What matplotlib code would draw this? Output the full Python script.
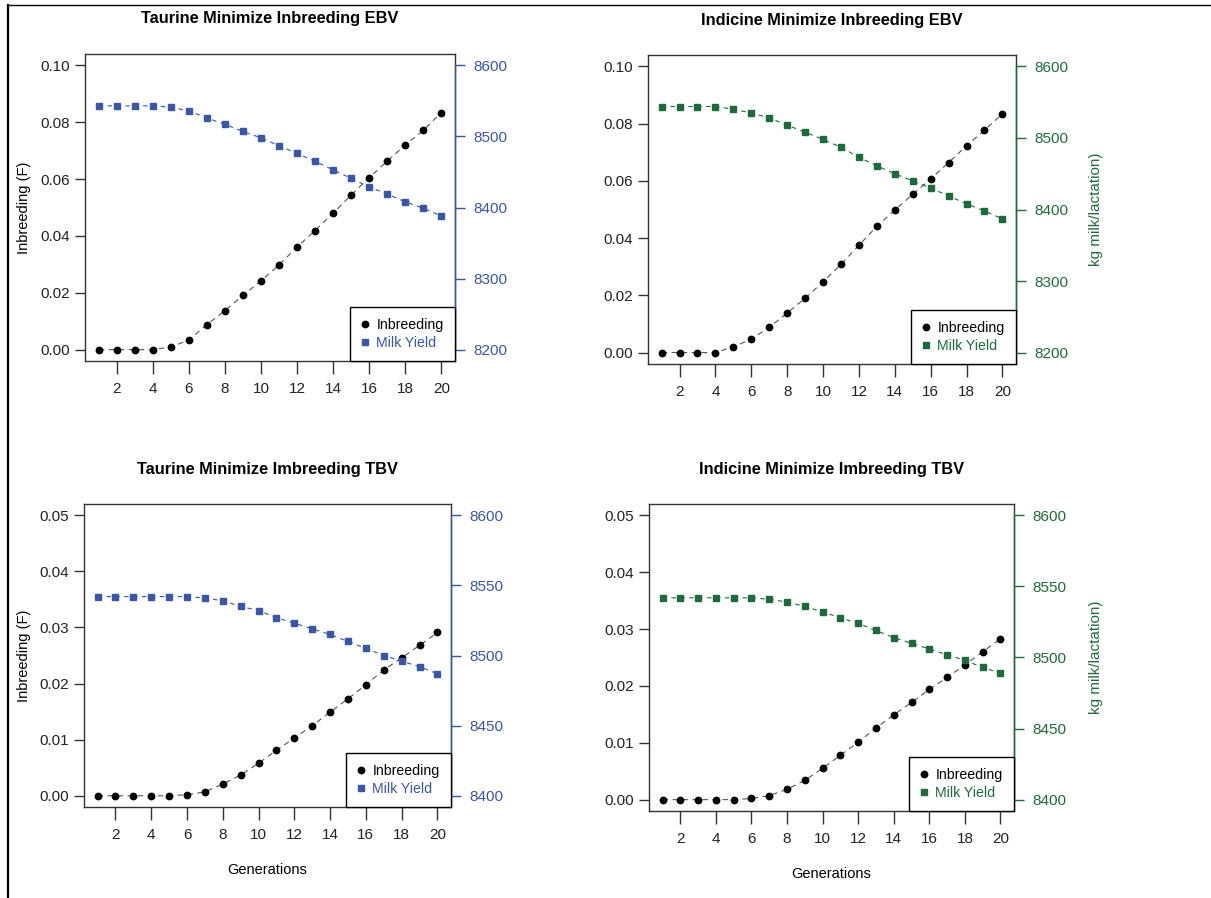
import numpy as np
import matplotlib
matplotlib.use("Agg")
import matplotlib.pyplot as plt
from matplotlib.lines import Line2D

plt.rcParams['font.family'] = ['Liberation Sans', 'DejaVu Sans']

generations = list(range(1, 21))

# Taurine, minimize inbreeding, EBV
tau_ebv_f = [0.0, 0.0, 0.0, 0.0, 0.0009, 0.0034, 0.0088, 0.0137, 0.0191, 0.0242,
             0.0298, 0.0361, 0.0419, 0.0480, 0.0544, 0.0605, 0.0663, 0.0720, 0.0771, 0.0834]
tau_ebv_milk = [8543, 8543, 8543, 8543, 8541, 8536, 8526, 8517, 8507, 8498,
                8487, 8476, 8465, 8453, 8441, 8429, 8419, 8408, 8399, 8388]

# Indicine, minimize inbreeding, EBV
ind_ebv_f = [0.0, 0.0, 0.0, 0.0, 0.0020, 0.0047, 0.0088, 0.0138, 0.0190, 0.0247,
             0.0308, 0.0375, 0.0441, 0.0498, 0.0553, 0.0607, 0.0664, 0.0723, 0.0777, 0.0834]
ind_ebv_milk = [8544, 8544, 8544, 8544, 8540, 8535, 8528, 8518, 8508, 8498,
                8487, 8473, 8461, 8450, 8440, 8430, 8419, 8408, 8398, 8387]

# Taurine, minimize inbreeding, TBV
tau_tbv_f = [0.0, 0.0, 0.0, 0.0, 0.0, 0.0002, 0.0007, 0.0021, 0.0037, 0.0058,
             0.0081, 0.0103, 0.0125, 0.0149, 0.0173, 0.0198, 0.0224, 0.0246, 0.0268, 0.0291]
tau_tbv_milk = [8542, 8542, 8542, 8542, 8542, 8542, 8541, 8539, 8535, 8532,
                8527, 8523, 8519, 8515, 8510, 8505, 8500, 8496, 8492, 8487]

# Indicine, minimize inbreeding, TBV
ind_tbv_f = [0.0, 0.0, 0.0, 0.0, 0.0, 0.0002, 0.0007, 0.0018, 0.0034, 0.0055,
             0.0078, 0.0101, 0.0126, 0.0149, 0.0171, 0.0194, 0.0215, 0.0237, 0.0260, 0.0283]
ind_tbv_milk = [8542, 8542, 8542, 8542, 8542, 8542, 8541, 8539, 8536, 8532,
                8528, 8524, 8519, 8514, 8510, 8506, 8502, 8498, 8493, 8489]

blue = '#3a56a6'
green = '#1e6b3a'

W, H = 1211, 898
fig = plt.figure(figsize=(W / 100, H / 100), dpi=100)

# page frame lines
fig.add_artist(Line2D([8 / W, 8 / W], [0, 1 - 5 / H], color='black', lw=1.6))
fig.add_artist(Line2D([8 / W, 1], [1 - 4.5 / H, 1 - 4.5 / H], color='black', lw=1.0))


def panel(box, title, f, milk, col, fmax, mlo, mhi, mstep, left_lab, right_lab, bottom_lab):
    x0, x1, y0, y1 = box
    ax = fig.add_axes([x0 / W, 1 - y1 / H, (x1 - x0) / W, (y1 - y0) / H])
    ax2 = ax.twinx()

    ax.plot(generations, f, ls=(0, (5, 4)), color='#555555', lw=0.8, zorder=1)
    ax.plot(generations, f, ls='none', marker='o', ms=4.6, color='black', zorder=2)
    ax2.plot(generations, milk, ls=(0, (4, 4)), color=col, lw=0.8, zorder=1)
    ax2.plot(generations, milk, ls='none', marker='s', ms=4.3, color=col, zorder=2)

    ax.set_xlim(0.24, 20.76)
    ax.set_xticks(range(2, 21, 2))
    pad = fmax * 0.04
    ax.set_ylim(-pad, fmax + pad)
    ax.set_yticks(np.linspace(0, fmax, 6))
    ax.set_yticklabels(['%.2f' % v for v in np.linspace(0, fmax, 6)])
    mpad = (mhi - mlo) * 0.04
    ax2.set_ylim(mlo - mpad, mhi + mpad)
    ax2.set_yticks(np.arange(mlo, mhi + 1, mstep))

    for s in ax.spines.values():
        s.set_color('#333333')
        s.set_linewidth(1.0)
    for s in ['top', 'left', 'bottom']:
        ax2.spines[s].set_visible(False)
    ax2.spines['right'].set_bounds(mlo, mhi)
    ax2.spines['right'].set_color(col)
    ax2.spines['right'].set_linewidth(1.0)

    ax.tick_params(axis='both', direction='out', length=7, width=1, color='#333333',
                   labelsize=11, labelcolor='#222222', pad=4)
    ax.tick_params(axis='x', length=9, pad=6)
    ax2.tick_params(axis='y', direction='out', length=7, width=1, color=col,
                    labelsize=11, labelcolor=col, pad=6)

    fig.text((x0 + x1) / 2 / W, 1 - (y0 - 35) / H, title, ha='center', va='center',
             fontsize=11.8, fontweight='bold')

    if left_lab:
        ax.set_ylabel('Inbreeding (F)', fontsize=10.5)
        ax.yaxis.set_label_coords(-(x0 - 31) / (x1 - x0), 0.5)
    if right_lab:
        ax2.set_ylabel('kg milk/lactation)', fontsize=11, color=col)
        ax2.yaxis.set_label_coords(1 + (1089 - x1) / (x1 - x0), 0.5)
    if bottom_lab:
        ax.set_xlabel('Generations', fontsize=10.5)
        ax.xaxis.set_label_coords(0.5, -56 / (y1 - y0))

    h1 = Line2D([], [], ls='none', marker='o', ms=4.6, color='black')
    h2 = Line2D([], [], ls='none', marker='s', ms=4.3, color=col)
    leg = ax2.legend([h1, h2], ['Inbreeding', 'Milk Yield'], loc='lower right',
                     borderaxespad=0, fancybox=False, framealpha=1, edgecolor='black',
                     fontsize=10.2, handlelength=0.5, handletextpad=0.55,
                     borderpad=0.8, labelspacing=0.25)
    leg.get_frame().set_linewidth(1.0)
    leg.get_texts()[1].set_color(col)
    return ax, ax2


panel((85, 455, 54, 361), 'Taurine Minimize Inbreeding EBV', tau_ebv_f, tau_ebv_milk,
      blue, 0.10, 8200, 8600, 100, True, False, False)
panel((648, 1016, 55, 364), 'Indicine Minimize Inbreeding EBV', ind_ebv_f, ind_ebv_milk,
      green, 0.10, 8200, 8600, 100, False, True, False)
panel((84, 451, 504, 807), 'Taurine Minimize Imbreeding TBV', tau_tbv_f, tau_tbv_milk,
      blue, 0.05, 8400, 8600, 50, True, False, True)
panel((649, 1014, 504, 811), 'Indicine Minimize Imbreeding TBV', ind_tbv_f, ind_tbv_milk,
      green, 0.05, 8400, 8600, 50, False, True, True)

plt.savefig('out.png', dpi=100)
